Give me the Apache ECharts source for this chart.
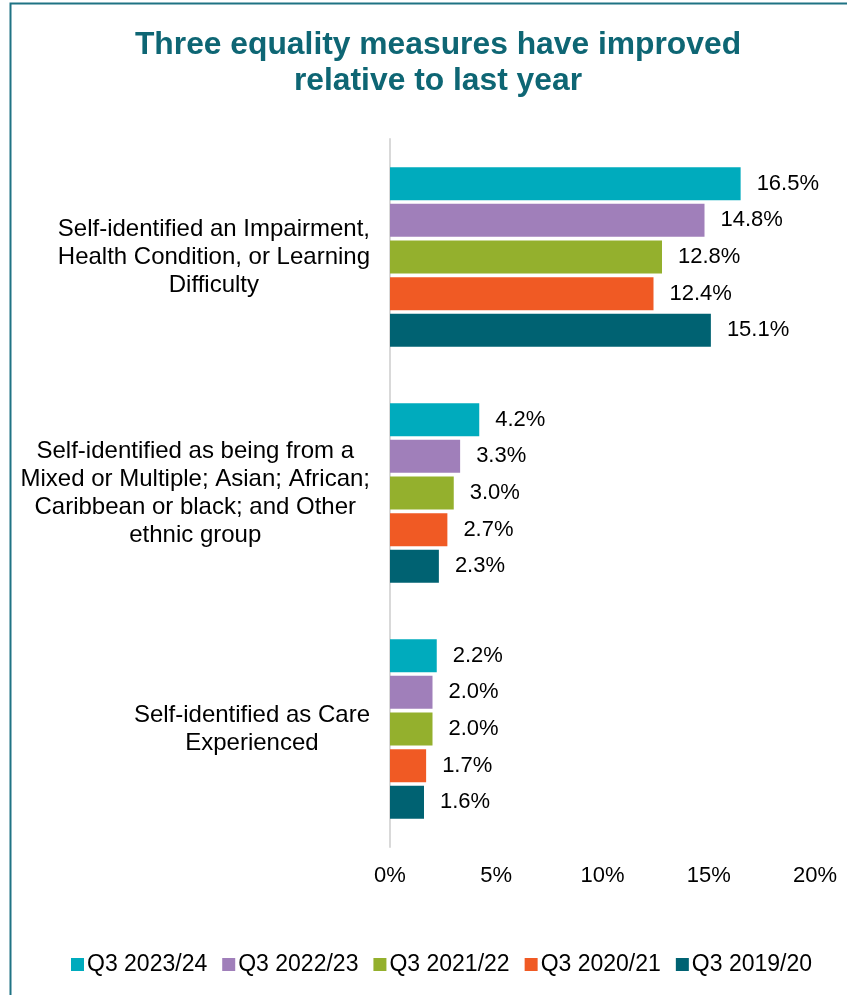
<!DOCTYPE html>
<html><head><meta charset="utf-8">
<script src="https://cdn.jsdelivr.net/npm/echarts@6/dist/echarts.min.js"></script>
<style>html,body{margin:0;padding:0;background:#fff;}#c{width:847px;height:995px;}</style>
</head><body><div id="c"></div>
<script>
const categories = [
  'Self-identified an Impairment,\nHealth Condition, or Learning\nDifficulty',
  'Self-identified as being from a\nMixed or Multiple; Asian; African;\nCaribbean or black; and Other\nethnic group',
  'Self-identified as Care\nExperienced'
];
const seriesNames = ['Q3 2023/24', 'Q3 2022/23', 'Q3 2021/22', 'Q3 2020/21', 'Q3 2019/20'];
const q3_2023_24 = [16.5, 4.2, 2.2];
const q3_2022_23 = [14.8, 3.3, 2.0];
const q3_2021_22 = [12.8, 3.0, 2.0];
const q3_2020_21 = [12.4, 2.7, 1.7];
const q3_2019_20 = [15.1, 2.3, 1.6];
const colors = ['#00abbd', '#a07fba', '#94b02d', '#f05a24', '#006272'];
const xTicks = {min: 0, max: 20, interval: 5};

const allData = [q3_2023_24, q3_2022_23, q3_2021_22, q3_2020_21, q3_2019_20];
const font = "'Liberation Sans', Arial, sans-serif";
const chart = echarts.init(document.getElementById('c'), null, {renderer: 'canvas'});
chart.setOption({
  animation: false,
  backgroundColor: '#fff',
  textStyle: {fontFamily: font},
  title: {
    text: 'Three equality measures have improved\nrelative to last year',
    left: 433, top: 22, textAlign: 'center',
    textStyle: {fontFamily: font, fontSize: 31.8, fontWeight: 'bold', color: '#0e6674', lineHeight: 36}
  },
  graphic: [{
    type: 'rect', silent: true, z: 100,
    shape: {x: 10.5, y: 3.5, width: 900, height: 1100},
    style: {fill: 'none', stroke: '#1f7384', lineWidth: 2}
  }],
  legend: {
    bottom: 14, left: 66,
    icon: 'rect', itemWidth: 13, itemHeight: 13, itemGap: 15,
    textStyle: {fontFamily: font, fontSize: 23, color: '#000', padding: [0, 0, 0, -2]},
    data: seriesNames
  },
  grid: {left: 390, right: 32, top: 139, bottom: 148, containLabel: false, outerBoundsMode: 'none'},
  xAxis: {
    type: 'value', min: xTicks.min, max: xTicks.max, interval: xTicks.interval,
    axisLine: {show: false}, axisTick: {show: false}, splitLine: {show: false},
    axisLabel: {formatter: '{value}%', fontFamily: font, fontSize: 22, color: '#000', margin: 18}
  },
  yAxis: {
    type: 'category', data: categories, inverse: true,
    axisLine: {show: true, lineStyle: {color: '#d9d9d9', width: 2}},
    axisTick: {show: false},
    axisLabel: {
      fontFamily: font, fontSize: 24, color: '#000', align: 'right', margin: 20, lineHeight: 28,
      formatter: v => v.split('\n').map(l => '{c|' + l + '}').join('\n'),
      rich: {c: {fontFamily: font, fontSize: 24, color: '#000', align: 'center', lineHeight: 28}}
    }
  },
  series: seriesNames.map((n, i) => ({
    name: n, type: 'bar', data: allData[i],
    barWidth: 33, barGap: '11%',
    itemStyle: {color: colors[i]},
    label: {show: true, position: 'right', distance: 16, fontFamily: font, fontSize: 22, color: '#000',
      formatter: p => p.value.toFixed(1) + '%'}
  }))
});
</script></body></html>
